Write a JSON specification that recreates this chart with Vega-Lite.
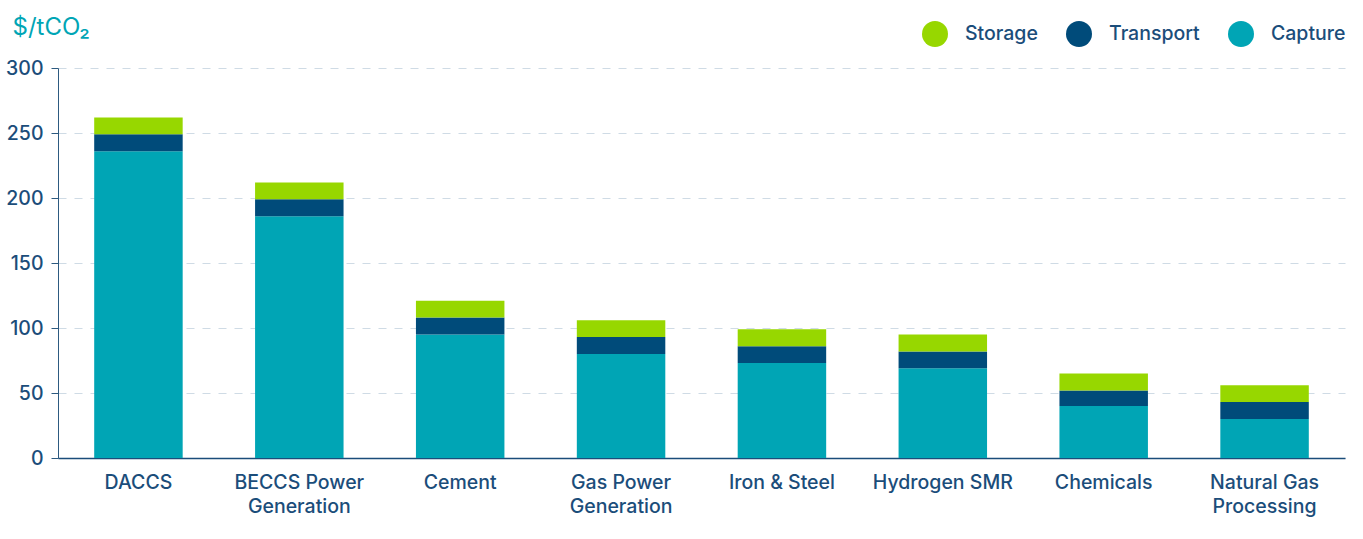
{
  "$schema": "https://vega.github.io/schema/vega-lite/v6.json",
  "width": 1287,
  "height": 390,
  "autosize": {"type": "none"},
  "padding": {"left": 58, "top": 68, "right": 18, "bottom": 81},
  "background": "white",
  "config": {
    "font": "Inter",
    "view": {"stroke": null}
  },
  "data": {
    "values": [
      {"sector": "DACCS", "component": "Capture", "cost": 236},
      {"sector": "DACCS", "component": "Transport", "cost": 13},
      {"sector": "DACCS", "component": "Storage", "cost": 13},
      {"sector": "BECCS Power Generation", "component": "Capture", "cost": 186},
      {"sector": "BECCS Power Generation", "component": "Transport", "cost": 13},
      {"sector": "BECCS Power Generation", "component": "Storage", "cost": 13},
      {"sector": "Cement", "component": "Capture", "cost": 95},
      {"sector": "Cement", "component": "Transport", "cost": 13},
      {"sector": "Cement", "component": "Storage", "cost": 13},
      {"sector": "Gas Power Generation", "component": "Capture", "cost": 80},
      {"sector": "Gas Power Generation", "component": "Transport", "cost": 13},
      {"sector": "Gas Power Generation", "component": "Storage", "cost": 13},
      {"sector": "Iron & Steel", "component": "Capture", "cost": 73},
      {"sector": "Iron & Steel", "component": "Transport", "cost": 13},
      {"sector": "Iron & Steel", "component": "Storage", "cost": 13},
      {"sector": "Hydrogen SMR", "component": "Capture", "cost": 69},
      {"sector": "Hydrogen SMR", "component": "Transport", "cost": 13},
      {"sector": "Hydrogen SMR", "component": "Storage", "cost": 13},
      {"sector": "Chemicals", "component": "Capture", "cost": 40},
      {"sector": "Chemicals", "component": "Transport", "cost": 12},
      {"sector": "Chemicals", "component": "Storage", "cost": 13},
      {"sector": "Natural Gas Processing", "component": "Capture", "cost": 30},
      {"sector": "Natural Gas Processing", "component": "Transport", "cost": 13},
      {"sector": "Natural Gas Processing", "component": "Storage", "cost": 13}
    ]
  },
  "transform": [
    {"calculate": "indexof(['Capture','Transport','Storage'], datum.component)", "as": "stackOrder"}
  ],
  "mark": {"type": "bar"},
  "encoding": {
    "x": {
      "field": "sector",
      "type": "nominal",
      "sort": null,
      "scale": {"paddingInner": 0.45, "paddingOuter": 0.225},
      "axis": {
        "title": null,
        "labelAngle": 0,
        "labelFontSize": 19.5,
        "labelFontWeight": 500,
        "labelColor": "#1b4d7a",
        "labelPadding": 15,
        "labelLineHeight": 24,
        "labelBaseline": "top",
        "ticks": false,
        "domainColor": "#1b4d7a",
        "domainWidth": 1.5,
        "labelExpr": "datum.label == 'BECCS Power Generation' ? ['BECCS Power', 'Generation'] : datum.label == 'Gas Power Generation' ? ['Gas Power', 'Generation'] : datum.label == 'Natural Gas Processing' ? ['Natural Gas', 'Processing'] : datum.label"
      }
    },
    "y": {
      "field": "cost",
      "type": "quantitative",
      "stack": "zero",
      "scale": {"domain": [0, 300]},
      "axis": {
        "values": [0, 50, 100, 150, 200, 250, 300],
        "title": "$/tCO₂",
        "titleAngle": 0,
        "titleAlign": "left",
        "titleBaseline": "alphabetic",
        "titleX": -46,
        "titleY": -34,
        "titleFontSize": 24,
        "titleFontWeight": "normal",
        "titleColor": "#00a5b5",
        "labelFontSize": 19.5,
        "labelFontWeight": 500,
        "labelColor": "#1b4d7a",
        "labelPadding": 8,
        "tickSize": 7,
        "tickColor": "#2d5a80",
        "domainColor": "#2d5a80",
        "grid": true,
        "gridColor": "#cfdbe5",
        "gridDash": [8, 8],
        "gridWidth": 1.2
      }
    },
    "color": {
      "field": "component",
      "type": "nominal",
      "scale": {
        "domain": ["Storage", "Transport", "Capture"],
        "range": ["#97d700", "#004b7a", "#00a5b5"]
      },
      "legend": {
        "title": null,
        "orient": "none",
        "direction": "horizontal",
        "legendX": 864,
        "legendY": -47,
        "symbolType": "circle",
        "symbolSize": 676,
        "symbolStrokeWidth": 0,
        "symbolOpacity": 1,
        "labelFontSize": 19.5,
        "labelFontWeight": 500,
        "labelColor": "#1b4d7a",
        "labelOffset": 17,
        "columnPadding": 28
      }
    },
    "order": {"field": "stackOrder", "type": "quantitative"}
  }
}
